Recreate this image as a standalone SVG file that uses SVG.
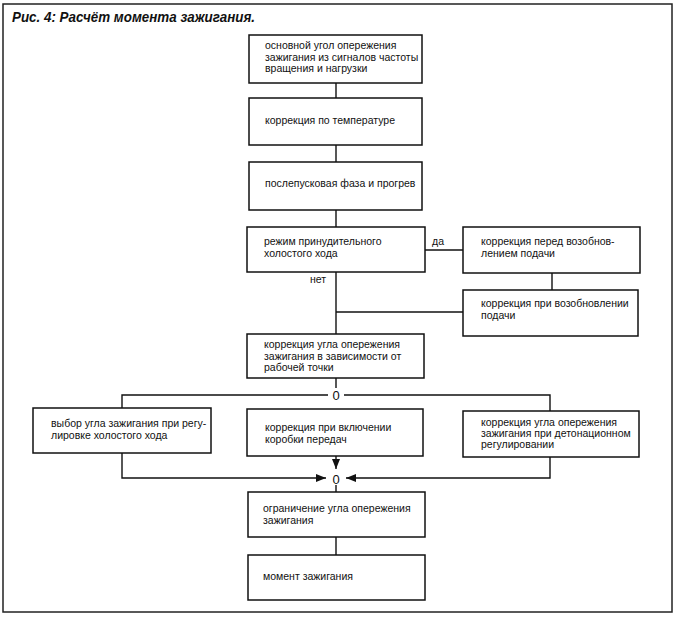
<svg xmlns="http://www.w3.org/2000/svg" width="677" height="617" viewBox="0 0 677 617">
<style>
.frame{fill:none;stroke:#222;stroke-width:1.5}
.box{fill:#fff;stroke:#111;stroke-width:1.5}
.ln{fill:none;stroke:#111;stroke-width:1.4}
.t{font-family:"Liberation Sans",Arial,sans-serif;font-size:10.5px;fill:#111}
.z{font-family:"Liberation Sans",Arial,sans-serif;font-size:13px;fill:#111;text-anchor:middle}
.title{font-family:"Liberation Sans",Arial,sans-serif;font-size:14px;font-weight:bold;font-style:italic;fill:#111}
</style>
<defs>
<marker id="ah" markerWidth="10" markerHeight="8" refX="10" refY="4" orient="auto" markerUnits="userSpaceOnUse">
<path d="M0,0 L10,4 L0,8 Z" fill="#111"/>
</marker>
</defs>
<rect width="677" height="617" fill="#fff"/>
<rect class="frame" x="3" y="4" width="669" height="608"/>
<text class="title" x="12" y="22" textLength="243" lengthAdjust="spacingAndGlyphs">Рис. 4: Расчёт момента зажигания.</text>

<g id="connectors">
<line class="ln" x1="336" y1="83" x2="336" y2="98"/>
<line class="ln" x1="336" y1="145" x2="336" y2="162"/>
<line class="ln" x1="336" y1="210" x2="336" y2="227"/>
<line class="ln" x1="425" y1="250" x2="463" y2="250"/>
<line class="ln" x1="552" y1="273" x2="552" y2="290"/>
<line class="ln" x1="336" y1="272" x2="336" y2="334"/>
<line class="ln" x1="336" y1="312" x2="463" y2="312"/>
<line class="ln" x1="336" y1="378" x2="336" y2="388"/>
<polyline class="ln" points="328,395 122,395 122,408"/>
<polyline class="ln" points="344,395 550,395 550,411"/>
<line class="ln" x1="336" y1="456" x2="336" y2="469" marker-end="url(#ah)"/>
<polyline class="ln" points="122,453 122,478 326,478" marker-end="url(#ah)"/>
<polyline class="ln" points="550,457 550,478 346,478" marker-end="url(#ah)"/>
<line class="ln" x1="336" y1="485" x2="336" y2="492"/>
<line class="ln" x1="336" y1="537" x2="336" y2="555"/>
<text class="t" x="432" y="245">да</text>
<text class="t" x="310" y="283">нет</text>
<text class="z" x="336" y="400">0</text>
<text class="z" x="336" y="484">0</text>
</g>

<g id="n1"><rect class="box" x="249" y="35" width="173" height="48"/>
<text class="t" x="265" y="49">основной угол опережения</text>
<text class="t" x="265" y="60.5">зажигания из сигналов частоты</text>
<text class="t" x="265" y="72">вращения и нагрузки</text></g>

<g id="n2"><rect class="box" x="249" y="98" width="173" height="47"/>
<text class="t" x="265" y="124">коррекция по температуре</text></g>

<g id="n3"><rect class="box" x="249" y="162" width="173" height="48"/>
<text class="t" x="265" y="187">послепусковая фаза и прогрев</text></g>

<g id="n4"><rect class="box" x="247" y="227" width="178" height="45"/>
<text class="t" x="264" y="245">режим принудительного</text>
<text class="t" x="264" y="256.5">холостого хода</text></g>

<g id="n5"><rect class="box" x="463" y="227" width="177" height="46"/>
<text class="t" x="481" y="245">коррекция перед возобнов-</text>
<text class="t" x="481" y="256.5">лением подачи</text></g>

<g id="n6"><rect class="box" x="463" y="290" width="175" height="46"/>
<text class="t" x="481" y="307">коррекция при возобновлении</text>
<text class="t" x="481" y="318.5">подачи</text></g>

<g id="n7"><rect class="box" x="247" y="334" width="177" height="44"/>
<text class="t" x="264" y="348">коррекция угла опережения</text>
<text class="t" x="264" y="359.5">зажигания в зависимости от</text>
<text class="t" x="264" y="371">рабочей точки</text></g>

<g id="n8"><rect class="box" x="33" y="408" width="178" height="45"/>
<text class="t" x="51" y="427">выбор угла зажигания при регу-</text>
<text class="t" x="51" y="438.5">лировке холостого хода</text></g>

<g id="n9"><rect class="box" x="247" y="409" width="176" height="47"/>
<text class="t" x="265" y="431">коррекция при включении</text>
<text class="t" x="265" y="442.5">коробки передач</text></g>

<g id="n10"><rect class="box" x="463" y="411" width="176" height="46"/>
<text class="t" x="481" y="426">коррекция угла опережения</text>
<text class="t" x="481" y="437">зажигания при детонационном</text>
<text class="t" x="481" y="448">регулировании</text></g>

<g id="n11"><rect class="box" x="248" y="492" width="177" height="45"/>
<text class="t" x="263" y="512">ограничение угла опережения</text>
<text class="t" x="263" y="523.5">зажигания</text></g>

<g id="n12"><rect class="box" x="248" y="555" width="177" height="45"/>
<text class="t" x="263" y="580">момент зажигания</text></g>
</svg>
